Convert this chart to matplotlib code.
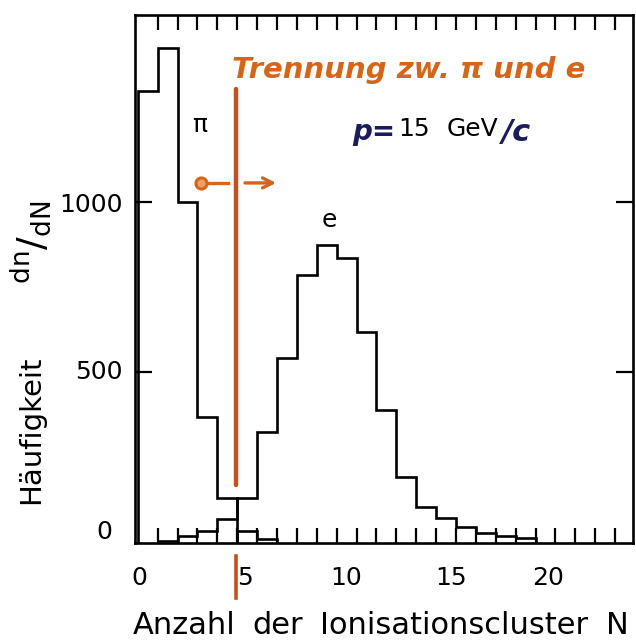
import numpy as np
import matplotlib
matplotlib.use("Agg")
import matplotlib.pyplot as plt

# ---------------- data ----------------
bin_edges = np.arange(0, 26)
pi_counts = [1325, 1450, 1000, 368, 132, 34, 12]          # bins 0..6
e_first_bin = 1
e_counts = [5, 20, 35, 70, 132, 326, 541, 785, 873, 834, 617,
            390, 194, 105, 72, 48, 28, 20, 15]              # bins 1..19
xtick_values = [0, 5, 10, 15, 20]
ytick_values = [0, 500, 1000]
cut_value = 5.0
# ---------------------------------------

W, H = 636, 642
fig = plt.figure(figsize=(W / 100, H / 100), dpi=100)
plt.rcParams['font.family'] = ['DejaVu Sans']
plt.rcParams['mathtext.fontset'] = 'dejavusans'

ax = fig.add_axes([135 / W, 1 - 543 / H, (633 - 135) / W, (543 - 15) / H])
ax.set_xlim(-0.14, 24.9)
ax.set_ylim(0, 1547)

for s in ax.spines.values():
    s.set_linewidth(1.9)

LW = 1.9
k = np.asarray(bin_edges)
ax.stairs(pi_counts[:5], k[:6], color='black', linewidth=LW, baseline=0)
ax.stairs(pi_counts[5:], k[5:len(pi_counts) + 1], color='black', linewidth=LW, baseline=0)
ax.stairs(e_counts, k[e_first_bin:e_first_bin + len(e_counts) + 1],
          color='black', linewidth=LW, baseline=0)

ax.set_xticks(range(1, 25))
ax.tick_params(axis='x', direction='in', top=True, bottom=True, length=11, width=1.6,
               labelbottom=False)
ax.set_yticks([500, 1000])
ax.tick_params(axis='y', direction='in', left=True, right=True, length=12, width=1.6,
               labelleft=False)

# tick labels (slightly hand-placed like the original)
x_shift = [2, 8, 9, 15, 13]
for v, dx in zip(xtick_values, x_shift):
    ax.annotate(str(v), xy=(v, 0), xycoords=('data', 'axes fraction'),
                xytext=(dx, -35), textcoords='offset pixels',
                ha='center', va='center', fontsize=18, annotation_clip=False)
y_shift = [(-23, 11), (-12, 0), (-12, -3)]
for v, (dx, dy) in zip(ytick_values, y_shift):
    ax.annotate(str(v), xy=(0, v), xycoords=('axes fraction', 'data'),
                xytext=(dx, dy), textcoords='offset pixels',
                ha='right', va='center', fontsize=18, annotation_clip=False)

def P(x, y):
    return x / W, 1 - y / H

# axis labels (word by word, widely spaced as in the original)
for word, x0 in zip(["Anzahl", "der", "Ionisationscluster", "N"], [133, 252, 320, 606]):
    fig.text(*P(x0, 625), word, fontsize=22, ha='left', va='center')
fig.text(*P(31, 430), "Häufigkeit", fontsize=21, rotation=90, ha='center', va='center')
fig.text(*P(31, 242), r"${}^{\mathrm{dn}}/{}_{\mathrm{dN}}$", fontsize=27, rotation=90,
         ha='center', va='center')

# annotations
ax.text(3.1, 1225, "π", fontsize=18, ha='center', va='center')
ax.text(9.65, 945, "e", fontsize=18, ha='center', va='center')

navy = '#1c1c5a'
fig.text(*P(352, 132), "p=", fontsize=20, color=navy, style='italic',
         fontweight='bold', ha='left', va='center')
fig.text(*P(398, 129), "15", fontsize=18, ha='left', va='center')
fig.text(*P(447, 129), "GeV", fontsize=18, ha='left', va='center')
fig.text(*P(502, 132), "/c", fontsize=22, color=navy, style='italic',
         fontweight='bold', ha='left', va='center')

orange = '#d4661c'
orange_dark = '#c4501a'
fig.text(*P(232, 70), "Trennung zw. π und e", fontsize=21, color=orange,
         style='italic', fontweight='bold', ha='left', va='center')

# cut line
ax.plot([cut_value - 0.05, cut_value - 0.05], [170, 1330], color=orange_dark,
        linewidth=3.2, solid_capstyle='round')
ax.plot([cut_value - 0.05, cut_value - 0.05], [-0.025, -0.105], color=orange_dark,
        linewidth=2.6, transform=ax.get_xaxis_transform(), clip_on=False)

# arrows
ax.plot([3.2, 4.55], [1055, 1055], color=orange, linewidth=2.4)
ax.plot([3.2], [1055], 'o', color=orange, markersize=8, markerfacecolor='#f0a060',
        markeredgewidth=2.2)
ax.annotate("", xy=(7.1, 1055), xytext=(5.25, 1055),
            arrowprops=dict(arrowstyle='->', color=orange, lw=2.4, mutation_scale=18))

fig.savefig("out.png", dpi=100)
